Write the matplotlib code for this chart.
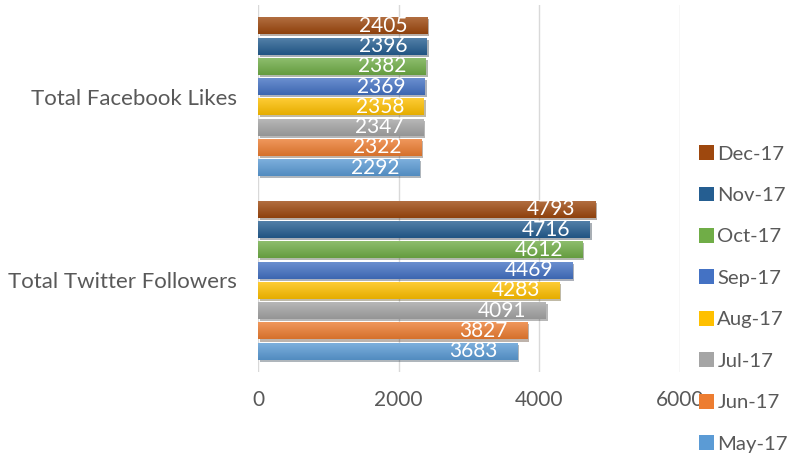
import numpy as np
import matplotlib.pyplot as plt
import matplotlib.patheffects as pe
from matplotlib.colors import to_rgb

# === DATA ===
categories = ['Total Twitter Followers', 'Total Facebook Likes']
months = ['May-17', 'Jun-17', 'Jul-17', 'Aug-17', 'Sep-17', 'Oct-17', 'Nov-17', 'Dec-17']
twitter = [3683, 3827, 4091, 4283, 4469, 4612, 4716, 4793]
facebook = [2292, 2322, 2347, 2358, 2369, 2382, 2396, 2405]
colors = ['#5B9BD5', '#ED7D31', '#A5A5A5', '#FFC000', '#4472C4', '#70AD47', '#255E91', '#9E480E']

plt.rcParams['font.family'] = ['Lato', 'DejaVu Sans']
txt_color = '#595959'

fig = plt.figure(figsize=(7.92, 4.57), dpi=100)
ax = fig.add_axes([258 / 792, 1 - 372 / 457, 422 / 792, 367 / 457])

n = len(months)
slot = 0.1104
height = 0.093
ycat = np.arange(len(categories))

for i, m in enumerate(months):
    vals = [twitter[i], facebook[i]]
    ypos = ycat + (i - (n - 1) / 2) * slot
    bars = ax.barh(ypos, vals, height=height, color=colors[i], label=m, zorder=3,
                   path_effects=[pe.SimplePatchShadow(offset=(1.5, -1.5), alpha=0.35),
                                 pe.Normal()])
    # light gradient on each bar
    base = np.array(to_rgb(colors[i]))
    top = base + (1 - base) * 0.22
    bot = base * 0.9
    grad = np.linspace(0, 1, 32)[:, None, None]
    img = top * (1 - grad) + bot * grad
    for b in bars:
        x0, y0, w, h = b.get_x(), b.get_y(), b.get_width(), b.get_height()
        im = ax.imshow(img, extent=(x0, x0 + w, y0, y0 + h), origin='upper',
                       aspect='auto', zorder=4)
        im.set_clip_path(b)
    for y, v in zip(ypos, vals):
        ax.annotate(str(v), xy=(v, y), xytext=(-14, 0), textcoords='offset points',
                    ha='right', va='center', color='white', fontsize=15, zorder=5)

ax.set_xlim(0, 6000)
ax.set_ylim(-0.5, 1.5)
ax.set_xticks([0, 2000, 4000, 6000])
ax.set_yticks(ycat)
ax.set_yticklabels(categories)
ax.tick_params(axis='both', length=0, labelsize=15, colors=txt_color)
ax.tick_params(axis='y', pad=15, labelsize=16)
ax.tick_params(axis='x', pad=13)
ax.grid(axis='x', color='#D9D9D9', linewidth=1, zorder=0)
for s in ax.spines.values():
    s.set_visible(False)

handles, labels = ax.get_legend_handles_labels()
leg = fig.legend(handles[::-1], labels[::-1], loc='upper left',
                 bbox_to_anchor=(691 / 792, 1 - 137 / 457), frameon=False,
                 fontsize=14.6, handlelength=0.75, handleheight=0.75,
                 handletextpad=0.15, labelspacing=1.18, borderaxespad=0)
for t in leg.get_texts():
    t.set_color(txt_color)
for h in leg.legend_handles:
    h.set_path_effects([])

fig.savefig('out.png', dpi=100)
